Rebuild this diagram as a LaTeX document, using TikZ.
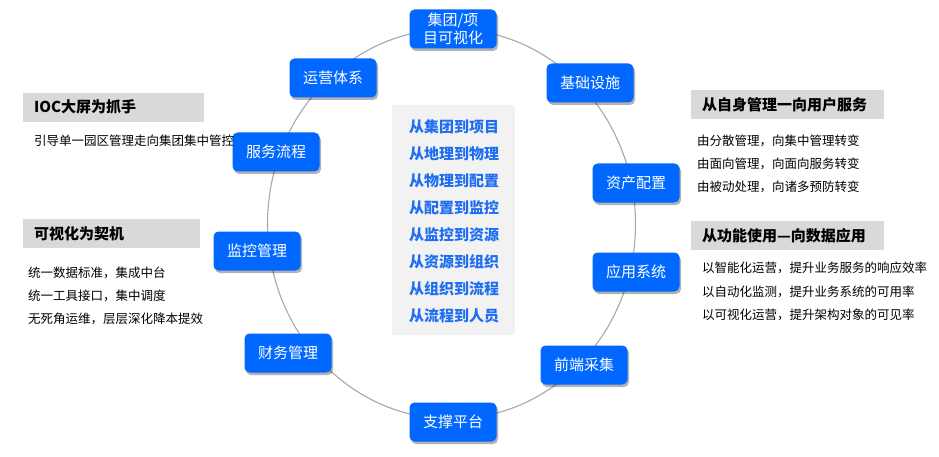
\documentclass[tikz,border=0pt]{standalone}
\usepackage{fontspec}
\setmainfont{Noto Sans CJK SC}
\usetikzlibrary{shadows}
\definecolor{boxblue}{HTML}{0068FF}
\definecolor{txtblue}{HTML}{1F6EF2}
\definecolor{ringgray}{HTML}{A8A8A8}
\definecolor{hdrgray}{HTML}{D9D9D9}
\definecolor{panelgray}{HTML}{F2F2F2}
\tikzset{
  x=1pt,y=-1pt,
  bluebox/.style={fill=boxblue, text=white, rounded corners=5pt, minimum width=87pt, minimum height=39pt, inner sep=0pt, font=\fontsize{15}{17}\selectfont, align=center,
    drop shadow={shadow xshift=1.5pt, shadow yshift=-2.5pt, fill=black, opacity=0.3}},
  hdr/.style={fill=hdrgray, minimum height=29pt, inner sep=0pt, anchor=north west},
  hdrtxt/.style={anchor=west, font=\fontsize{15}{17}\selectfont\bfseries, inner sep=0pt},
  body/.style={anchor=west, font=\fontsize{12.5}{14}\selectfont, inner sep=0pt},
  ctr/.style={font=\fontsize{15}{17}\selectfont\bfseries, text=txtblue, inner sep=0pt},
}
\begin{document}
\begin{tikzpicture}
\useasboundingbox (0,0) rectangle (939,457);
\fill[white] (0,0) rectangle (939,457);
% ring
\draw[ringgray, line width=1.1pt] (451.5,224) ellipse [x radius=184, y radius=195];
% center panel
\node[fill=panelgray, minimum width=123pt, minimum height=230pt, inner sep=0pt, anchor=north west] (panel) at (392,105) {};
\node[ctr] (c1) at (454,127) {从集团到项目};
\node[ctr] (c2) at (454,154) {从地理到物理};
\node[ctr] (c3) at (454,181) {从物理到配置};
\node[ctr] (c4) at (454,208) {从配置到监控};
\node[ctr] (c5) at (454,235) {从监控到资源};
\node[ctr] (c6) at (454,262) {从资源到组织};
\node[ctr] (c7) at (454,289) {从组织到流程};
\node[ctr] (c8) at (454,316) {从流程到人员};
% left panel texts
\node[hdr, minimum width=181pt] (h1) at (23,93) {};
\node[hdrtxt] (h1t) at (34,107) {IOC大屏为抓手};
\node[hdr, minimum width=177pt] (h2) at (23,219) {};
\node[hdrtxt] (h2t) at (34,233.5) {可视化为契机};
\node[body] (l2) at (28,273) {统一数据标准，集成中台};
\node[body] (l3) at (28,296) {统一工具接口，集中调度};
\node[body] (l4) at (28,319) {无死角运维，层层深化降本提效};
% right panel texts
\node[hdr, minimum width=193pt] (h3) at (691,90) {};
\node[hdrtxt] (h3t) at (702,104.5) {从自身管理一向用户服务};
\node[body] (r1) at (697,141) {由分散管理，向集中管理转变};
\node[body] (r2) at (697,164) {由面向管理，向面向服务转变};
\node[body] (r3) at (697,187) {由被动处理，向诸多预防转变};
\node[hdr, minimum width=193pt] (h4) at (691,221) {};
\node[hdrtxt] (h4t) at (702,235.5) {从功能使用—向数据应用};
\node[body] (r4) at (702,268) {以智能化运营，提升业务服务的响应效率};
\node[body] (r5) at (702,292) {以自动化监测，提升业务系统的可用率};
\node[body] (r6) at (702,315) {以可视化运营，提升架构对象的可见率};
% ring nodes
\node[bluebox, font=\fontsize{15}{18}\selectfont] (n1) at (453,29) {集团/项\\目可视化};
\node[bluebox] (n2) at (590,83) {基础设施};
\node[bluebox] (n3) at (636,183) {资产配置};
\node[bluebox] (n4) at (636,272) {应用系统};
\node[bluebox] (n5) at (584,365) {前端采集};
\node[bluebox] (n6) at (453,422) {支撑平台};
\node[bluebox] (n7) at (288,353) {财务管理};
\node[bluebox] (n8) at (257,251) {监控管理};
\node[bluebox] (n9) at (276,152) {服务流程};
\node[bluebox] (n10) at (333,78) {运营体系};
% text that overlaps a box edge, drawn on top
\node[body] (l1) at (34,141) {引导单一园区管理走向集团集中管控};
\end{tikzpicture}
\end{document}
